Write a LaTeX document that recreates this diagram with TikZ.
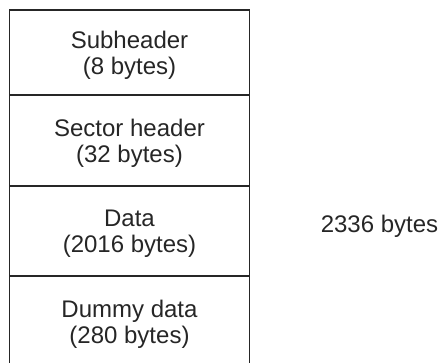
\documentclass[tikz,border=0pt]{standalone}
\usepackage{fontspec}
\setmainfont{Liberation Sans}
\begin{document}
\begin{tikzpicture}[x=1pt,y=1pt,
  cell/.style={draw=black!85, line width=1.3pt, minimum width=240pt, inner sep=0pt},
  lbl/.style={inner sep=0pt, align=center, font=\fontsize{24}{26}\selectfont, text=black!85}]
\useasboundingbox (0,0) rectangle (443,-362);
\node[cell, minimum height=85pt] (sub) at (129.5,-52.5) {};
\node[cell, minimum height=91pt] (sec) at (129.5,-140.5) {};
\node[cell, minimum height=90pt] (dat) at (129.5,-231) {};
\node[cell, minimum height=90pt] (dum) at (129.5,-321) {};
\node[lbl] (subt) at ([yshift=-3pt]sub.center) {Subheader\\(8 bytes)};
\node[lbl] (sect) at ([yshift=-3pt]sec.center) {Sector header\\(32 bytes)};
\node[lbl] (datt) at ([yshift=-3pt]dat.center) {Data\\(2016 bytes)};
\node[lbl] (dumt) at ([yshift=-3pt]dum.center) {Dummy data\\(280 bytes)};
\node[lbl] (tot) at (379.5,-226) {2336 bytes};
\end{tikzpicture}
\end{document}
